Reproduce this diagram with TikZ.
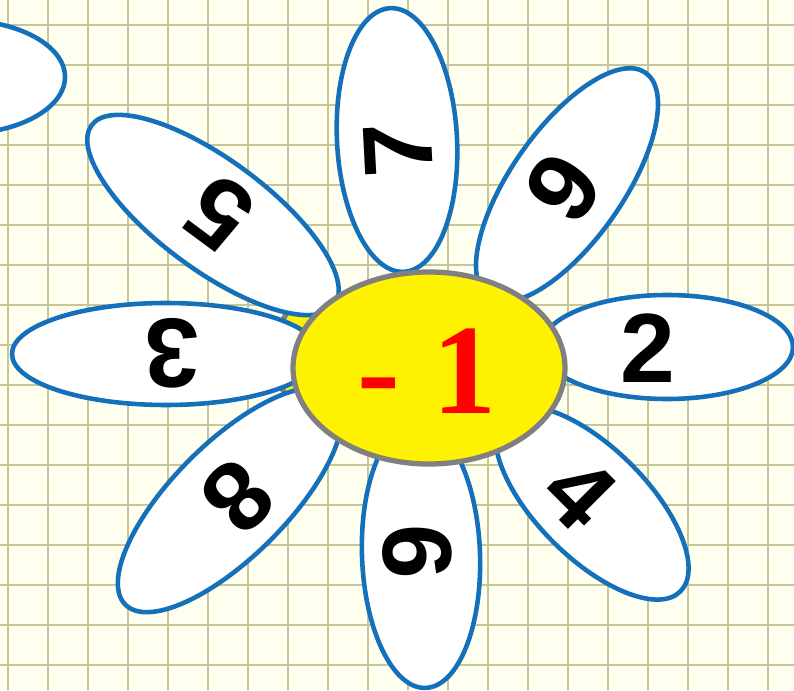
\documentclass[tikz,border=0pt]{standalone}
\usepackage{fontspec}
\setmainfont{Liberation Serif}
\newfontfamily\petalfont{Liberation Sans}
\definecolor{PaperClr}{RGB}{255,255,240}
\definecolor{GridClr}{RGB}{198,198,150}
\definecolor{PetalClr}{RGB}{20,112,186}
\definecolor{HeartClr}{RGB}{128,128,128}
\tikzset{
  petal/.style={draw=PetalClr,fill=white,line width=2.6pt},
  heart/.style={draw=HeartClr,fill=yellow,line width=3pt},
  gridline/.style={GridClr,line width=1.2pt},
  digit/.style={font=\petalfont\bfseries\fontsize{56}{56}\selectfont,inner sep=0pt}
}

\begin{document}
\begin{tikzpicture}[x=0.02cm,y=0.02cm]
\useasboundingbox (0,0) rectangle (794,690);
\clip (0,0) rectangle (794,690);
\fill[PaperClr] (0,0) rectangle (794,690);
\foreach \x in {8,48,...,788} \draw[gridline] (\x,0) -- (\x,690);
\foreach \y in {25,65,...,665} \draw[gridline] (0,\y) -- (794,\y);

\draw[petal] (-40,613) ellipse [x radius=105, y radius=57];

\draw[heart] (320,335) ellipse [x radius=45, y radius=62];

\foreach \ang/\cx/\cy/\ra/\rb in {93/397/550/132/60, 55/567/505/137/56,
  0/667/343/126/52, -45/592/187/125/55, -88/421/135/133/59,
  225/230/190/148/57, 180/166/336/154/51, 143.5/213/475/151/55}
  \draw[petal,rotate around={\ang:(\cx,\cy)}] (\cx,\cy) ellipse [x radius=\ra, y radius=\rb];

\draw[heart] (429,322) ellipse [x radius=136, y radius=96];

\node[digit,rotate=93] (n7) at (398,540) {7};
\node[digit,rotate=55] (n9) at (563,502) {9};
\node[digit] (n2) at (648,342) {2};
\node[digit,rotate=-45] (n4) at (580,197) {4};
\node[digit,rotate=-90] (n6) at (417,138) {6};
\node[digit,rotate=225] (n8) at (238,193) {8};
\node[digit,rotate=180] (n3) at (172,337) {3};
\node[digit,rotate=143.5] (n5) at (220,477) {5};

\node[anchor=base,text=red,font=\bfseries\fontsize{73}{73}\selectfont] (mid) at (427,276) {- 1};
\end{tikzpicture}
\end{document}
